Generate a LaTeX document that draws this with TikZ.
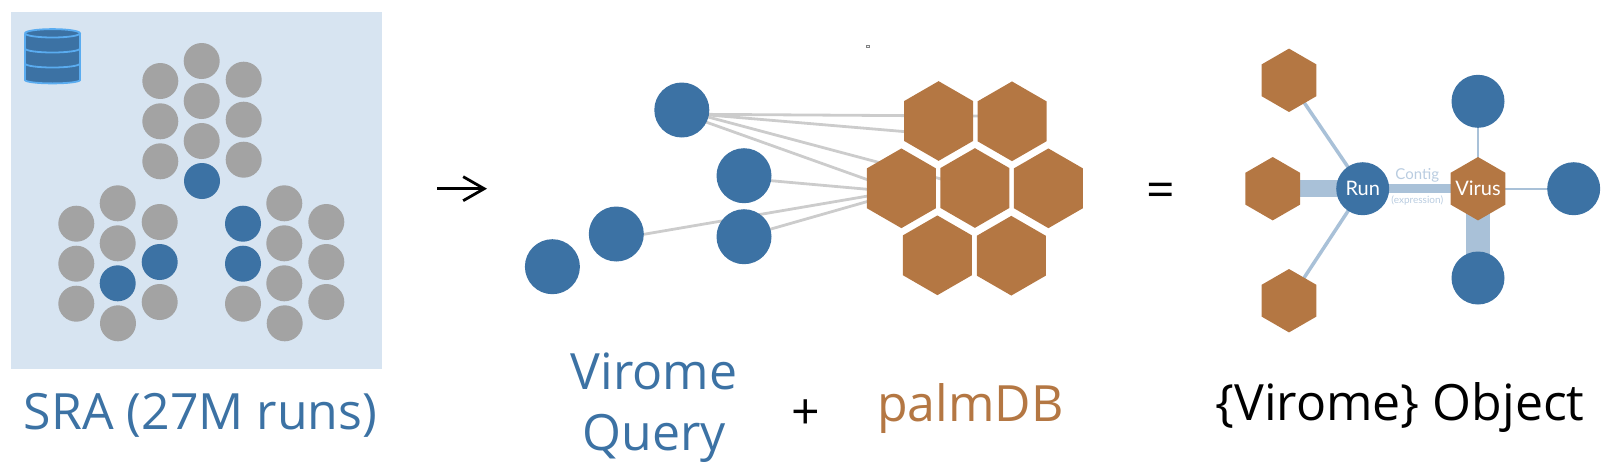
\documentclass[tikz,border=0pt]{standalone}
\usepackage{fontspec}
\setmainfont{Open Sans}
\newfontfamily\labelfont{Lato}
\usetikzlibrary{shapes.geometric,arrows.meta,backgrounds,calc}
\definecolor{vblue}{HTML}{3C72A4}
\definecolor{vbrown}{HTML}{B47743}
\definecolor{vgray}{HTML}{A3A3A3}
\definecolor{vpanel}{HTML}{D7E4F1}
\definecolor{vlink}{HTML}{A9C1D8}
\definecolor{vlabel}{HTML}{B9CCE0}
\definecolor{vline}{HTML}{CCCCCC}
\definecolor{vdb}{HTML}{5AACF0}
\tikzset{
  run/.style={circle,fill=vgray,draw=none,minimum size=36pt,inner sep=0pt,outer sep=0pt},
  hit/.style={run,fill=vblue},
  qnode/.style={circle,fill=vblue,minimum size=55pt,inner sep=0pt,outer sep=0pt},
  objnode/.style={circle,fill=vblue,minimum size=53pt,inner sep=0pt,outer sep=0pt},
  bighex/.style={regular polygon,regular polygon sides=6,shape border rotate=30,fill=vbrown,minimum size=79.7pt,inner sep=0pt,outer sep=0pt},
  smallhex/.style={regular polygon,regular polygon sides=6,shape border rotate=30,fill=vbrown,minimum size=63.4pt,inner sep=0pt,outer sep=0pt},
  bigtext/.style={font=\fontsize{50}{61}\selectfont,inner sep=0pt,anchor=base},
  qlink/.style={draw=vline,line width=2.8pt},
  objlink/.style={draw=vlink},
  innerlabel/.style={font=\labelfont\fontsize{20}{22}\selectfont,text=white,inner sep=0pt},
}
\begin{document}
\begin{tikzpicture}[x=1pt,y=-1pt]
\path[use as bounding box] (0,0) rectangle (1617,472);
% SRA panel
\node[fill=vpanel,minimum width=371pt,minimum height=357pt,inner sep=0pt,outer sep=0pt] (panel) at (196.5,190.5) {};
% database icon
\fill[vblue] (25,33.3) -- (25,80) arc[start angle=180,end angle=0,x radius=27.5,y radius=3.4] -- (80,33.3) arc[start angle=0,end angle=-180,x radius=27.5,y radius=4.2] -- cycle;
\draw[vdb,line width=1.8pt] (25,33.3) arc[start angle=180,end angle=540,x radius=27.5,y radius=4.2]
  (25,33.3) -- (25,80) arc[start angle=180,end angle=0,x radius=27.5,y radius=3.4] -- (80,33.3)
  (25,48.5) arc[start angle=180,end angle=0,x radius=27.5,y radius=4]
  (25,63.5) arc[start angle=180,end angle=0,x radius=27.5,y radius=4];
% SRA runs
\foreach \n/\x/\y in {
 a1/160.3/81,a2/160.3/121.3,a3/160.3/161.3,
 a4/201.7/61,a5/201.7/101,a6/201.7/141,
 a7/243.7/79.7,a8/243.7/119.7,a9/243.7/159.7,
 b1/76.3/223.7,b2/76.3/263.7,b3/76.3/303.7,
 b4/117.7/203.3,b5/117.7/243.3,b6/118/323.3,
 b7/159.7/222,b8/159.7/302,
 c1/243/303.7,
 c2/284.3/203.3,c3/284.3/243.3,c4/284.3/283.3,c5/284.7/323.3,
 c6/326.3/222,c7/326.3/262,c8/326.3/302}
 {\node[run] (\n) at (\x,\y) {};}
\foreach \n/\x/\y in {d1/202/181,d2/117.7/283.3,d3/159.7/262,d4/243/223.7,d5/243/263.7}
 {\node[hit] (\n) at (\x,\y) {};}
\node[bigtext,text=vblue] (sra) at (200.5,429) {SRA (27M runs)};
% arrow
\coordinate (arrowa) at (437,188.7);
\coordinate (arrowb) at (487,188.7);
\draw[black,line width=2.6pt,-{Straight Barb[length=21pt,width=24pt,line width=2.8pt]}] (arrowa) -- (arrowb);
% speck
\node[draw=vgray!80!black,fill=vpanel!40,line width=1pt,minimum size=2.6pt,inner sep=0pt,outer sep=0pt] (speck) at (867.7,46.3) {};
% query nodes
\node[qnode] (q1) at (681.8,110) {};
\node[qnode] (q2) at (744,175.7) {};
\node[qnode] (q3) at (744,236.7) {};
\node[qnode] (q4) at (616.3,234) {};
\node[qnode] (q5) at (552.4,266.7) {};
% palmDB hexagons
\node[bighex] (p1) at (938.6,121) {};
\node[bighex] (p2) at (1012,121.3) {};
\node[bighex] (p3) at (901.4,188.3) {};
\node[bighex] (p4) at (974.9,188) {};
\node[bighex] (p5) at (1048.4,188.3) {};
\node[bighex] (p6) at (937.4,255.3) {};
\node[bighex] (p7) at (1011.3,255.7) {};
\begin{scope}[on background layer]
\draw[qlink] ($(q1)+(0,4.2)$) -- ($(p2)+(0,-5)$);
\draw[qlink] ($(q1)+(0,2.7)$) -- ($(p1)+(0,13.5)$);
\draw[qlink] (q1.center) -- (p4.center);
\draw[qlink] ($(q1)+(0,3.4)$) -- ($(p3)+(0,3.5)$);
\draw[qlink] ($(q2)+(0,2.6)$) -- ($(p3)+(0,4)$);
\draw[qlink] ($(q4)+(0,5)$) -- ($(p3)+(0,2)$);
\draw[qlink] (q3.center) -- ($(p3)+(0,3.5)$);
\end{scope}
% text
\node[font=\fontsize{50}{61}\selectfont,text=vblue,align=center,inner sep=0pt] (qtext) at (654,407.5) {Virome\\Query};
\node[bigtext] (plus) at (806,429) {+};
\node[bigtext,text=vbrown] (palm) at (970.5,421.7) {palmDB};
\node[bigtext] (equal) at (1161,207) {=};
\node[bigtext] (obj) at (1400,420.7) {\{Virome\} Object};
% virome object
\node[smallhex] (ha) at (1289,80.3) {};
\node[smallhex] (hb) at (1272.7,188.7) {};
\node[smallhex] (hc) at (1289,300.7) {};
\node[objnode,innerlabel] (run) at (1362.7,188.7) {Run};
\node[smallhex] (virus) at (1478,188.7) {};
\node[innerlabel] (viruslabel) at (virus.center) {Virus};
\node[objnode] (vt) at (1478,101.3) {};
\node[objnode] (vr) at (1573.7,188.7) {};
\node[objnode] (vb) at (1478,278) {};
\begin{scope}[on background layer]
\draw[objlink,line width=3.5pt] (run.center) -- (ha.center);
\draw[objlink,line width=17pt] (run.center) -- (hb.center);
\draw[objlink,line width=3.5pt] (run.center) -- (hc.center);
\draw[objlink,line width=9pt] (run.center) -- (virus.center);
\draw[objlink,line width=2.2pt] (virus.center) -- (vt.center);
\draw[objlink,line width=2.2pt] (virus.center) -- (vr.center);
\draw[objlink,line width=23.5pt] (virus.center) -- (vb.center);
\end{scope}
\node[font=\labelfont\fontsize{15}{18}\selectfont,text=vlabel,inner sep=0pt,anchor=base] (contig) at (1417.3,179.3) {Contig};
\node[font=\labelfont\fontsize{10}{12}\selectfont,text=vlabel,inner sep=0pt,anchor=base] (expr) at (1417.3,203) {(expression)};
\end{tikzpicture}
\end{document}
